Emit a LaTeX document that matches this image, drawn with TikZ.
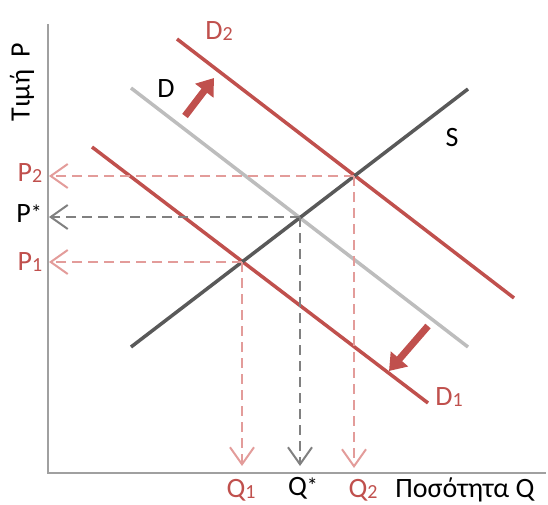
\documentclass[tikz,border=0pt]{standalone}
\usepackage{fontspec}
\setmainfont{Carlito}
\usetikzlibrary{arrows.meta}
\definecolor{cred}{HTML}{C0504D}
\definecolor{cpink}{HTML}{E39C9A}
\definecolor{cgrayD}{HTML}{BDBDBD}
\definecolor{cgrayS}{HTML}{595959}
\definecolor{cgrayDash}{HTML}{808080}
\definecolor{caxis}{HTML}{A0A0A0}
\newcommand{\sbs}[1]{{\fontsize{20}{20}\selectfont\raisebox{-1pt}{#1}}}
\newcommand{\eqstar}{{\fontsize{22}{22}\selectfont\raisebox{2pt}{*}}}
\begin{document}
\begin{tikzpicture}[x=1pt,y=-1pt,
  lbl/.style={font=\fontsize{28}{28}\selectfont, inner sep=0pt},
  curve/.style={line width=3.5pt},
  guide/.style={line width=2pt, dash pattern=on 10pt off 6pt, -{Straight Barb[length=17pt,width=24pt,line width=2pt]}},
  shiftarrow/.style={cred, line width=7pt, -{Triangle[length=16pt,width=22pt]}}]
\useasboundingbox (0,0) rectangle (548,505);
% axes
\coordinate (ytop) at (48,24);
\coordinate (orig) at (48,473);
\coordinate (xend) at (546,473);
\draw[caxis, line width=1.5pt] (ytop) -- (orig) -- (xend);
% curves
\coordinate (Da) at (131,88);  \coordinate (Db) at (468,347);
\coordinate (D2a) at (177,39); \coordinate (D2b) at (514,298);
\coordinate (D1a) at (92,147); \coordinate (D1b) at (428,403);
\coordinate (Sa) at (131,347); \coordinate (Sb) at (468,89);
\draw[curve, cgrayD] (Da) -- (Db);
\draw[curve, cred] (D2a) -- (D2b);
\draw[curve, cred] (D1a) -- (D1b);
\draw[curve, cgrayS] (Sa) -- (Sb);
% equilibria
\coordinate (E) at (300,217);
\coordinate (E2) at (354,176);
\coordinate (E1) at (242,262);
\coordinate (Ps) at (49,217);
\coordinate (P2t) at (49,176);
\coordinate (P1t) at (49,262);
\coordinate (Qs) at (300,466);
\coordinate (Q2t) at (354,468);
\coordinate (Q1t) at (242,466);
\draw[guide, cpink] (E2) -- (P2t);
\draw[guide, cpink] (E2) -- (Q2t);
\draw[guide, cgrayDash] (E) -- (Ps);
\draw[guide, cgrayDash] (E) -- (Qs);
\draw[guide, cpink] (E1) -- (P1t);
\draw[guide, cpink] (E1) -- (Q1t);
% shift arrows
\coordinate (a1s) at (185,116); \coordinate (a1e) at (214,78);
\coordinate (a2s) at (428,326); \coordinate (a2e) at (389,371);
\draw[shiftarrow] (a1s) -- (a1e);
\draw[shiftarrow] (a2s) -- (a2e);
% labels
\node[lbl, rotate=90] (ylab) at (22,82) {Τιμή\ \ P};
\node[lbl, cred] (lP2) at (30,173) {P\sbs{2}};
\node[lbl] (lPs) at (29,214) {P\eqstar};
\node[lbl, cred] (lP1) at (30,262) {P\sbs{1}};
\node[lbl, cred] (lQ1) at (241,490) {Q\sbs{1}};
\node[lbl] (lQs) at (303,488) {Q\eqstar};
\node[lbl, cred] (lQ2) at (363,490) {Q\sbs{2}};
\node[lbl] (xlab) at (465,490) {Ποσότητα Q};
\node[lbl] (lD) at (166,89) {D};
\node[lbl, cred] (lD2) at (219,31) {D\sbs{2}};
\node[lbl] (lS) at (452,138) {S};
\node[lbl, cred] (lD1) at (449,397) {D\sbs{1}};
\end{tikzpicture}
\end{document}
